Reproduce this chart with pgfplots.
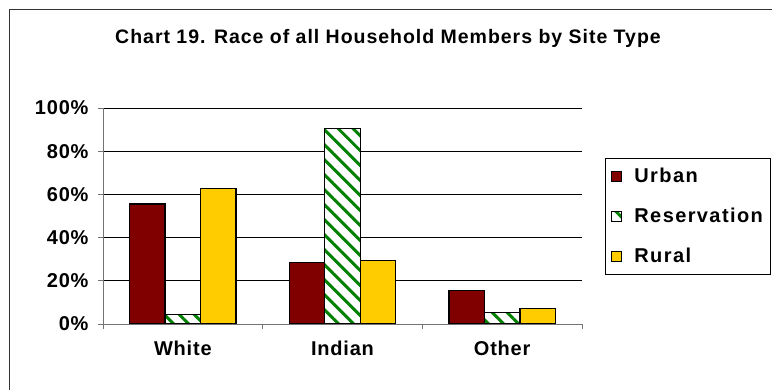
\documentclass[border=0pt]{standalone}
\usepackage{pgfplots}
\pgfplotsset{compat=1.18}
\usepackage{fontspec}
\setmainfont{Liberation Sans}[LetterSpace=4]
\newfontfamily\titlefont{Liberation Sans}[LetterSpace=5]
\newfontfamily\legfont{Liberation Sans}[LetterSpace=7]
\usetikzlibrary{patterns.meta}
\definecolor{urban}{RGB}{128,0,0}
\definecolor{rural}{RGB}{255,204,0}
\definecolor{resgreen}{RGB}{0,128,0}
\begin{document}
\begin{tikzpicture}
\useasboundingbox (0,0) rectangle (772bp,390bp);
\draw[line width=1bp, black!80] (9bp,0) -- (9bp,380bp) -- (772bp,380bp);
\node[font=\titlefont\fontsize{19.5bp}{22bp}\selectfont\bfseries] at (388bp,352bp) {Chart 19. Race of all Household Members by Site Type};
\begin{axis}[
  at={(103bp,66bp)}, anchor=south west,
  scale only axis, width=479bp, height=216bp,
  xmin=-0.5, xmax=2.5, ymin=0, ymax=100,
  ybar=0pt, bar width=35.5bp,
  axis lines*=left,
  axis line style={black!55, line width=0.8bp},
  ytick={0,20,...,100},
  yticklabel={\pgfmathprintnumber{\tick}\%},
  /pgf/number format/assume math mode=true,
  ymajorgrids, grid style={black, line width=0.8bp},
  xtick={0,1,2}, xticklabels={White,Indian,Other},
  minor xtick={-0.5,0.5,1.5,2.5},
  major x tick style={draw=none},
  minor x tick style={black!55, line width=0.8bp},
  y tick style={black!55, line width=0.8bp},
  tick align=outside,
  major tick length=5bp, minor tick length=5bp,
  ticklabel style={font=\fontsize{20bp}{23bp}\selectfont\bfseries},
  yticklabel style={xshift=-6bp},
  xticklabel style={yshift=-8bp},
  legend style={at={(1.048,0.7685)}, anchor=north west, draw=black, line width=0.8bp,
    font=\legfont\fontsize{20bp}{23bp}\selectfont\bfseries,
    inner xsep=6bp, inner ysep=8bp, row sep=20bp, cells={anchor=west}},
  legend image code/.code={\draw[#1, line width=0.8bp] (0bp,-5bp) rectangle (10bp,5bp); \path (20bp,0bp);},
]
\addplot[fill=urban, draw=black, line width=1.2bp] coordinates {(0,55.6) (1,28.5) (2,15.6)};
\addplot[fill=white, draw=black, line width=1.2bp, postaction={pattern={Lines[angle=-45, distance=10.6bp, line width=3bp]}, pattern color=resgreen}] coordinates {(0,4.5) (1,90.6) (2,5.4)};
\addplot[fill=rural, draw=black, line width=1.2bp] coordinates {(0,62.8) (1,29.5) (2,7.1)};
\legend{Urban,Reservation,Rural}
\end{axis}
\end{tikzpicture}
\end{document}
